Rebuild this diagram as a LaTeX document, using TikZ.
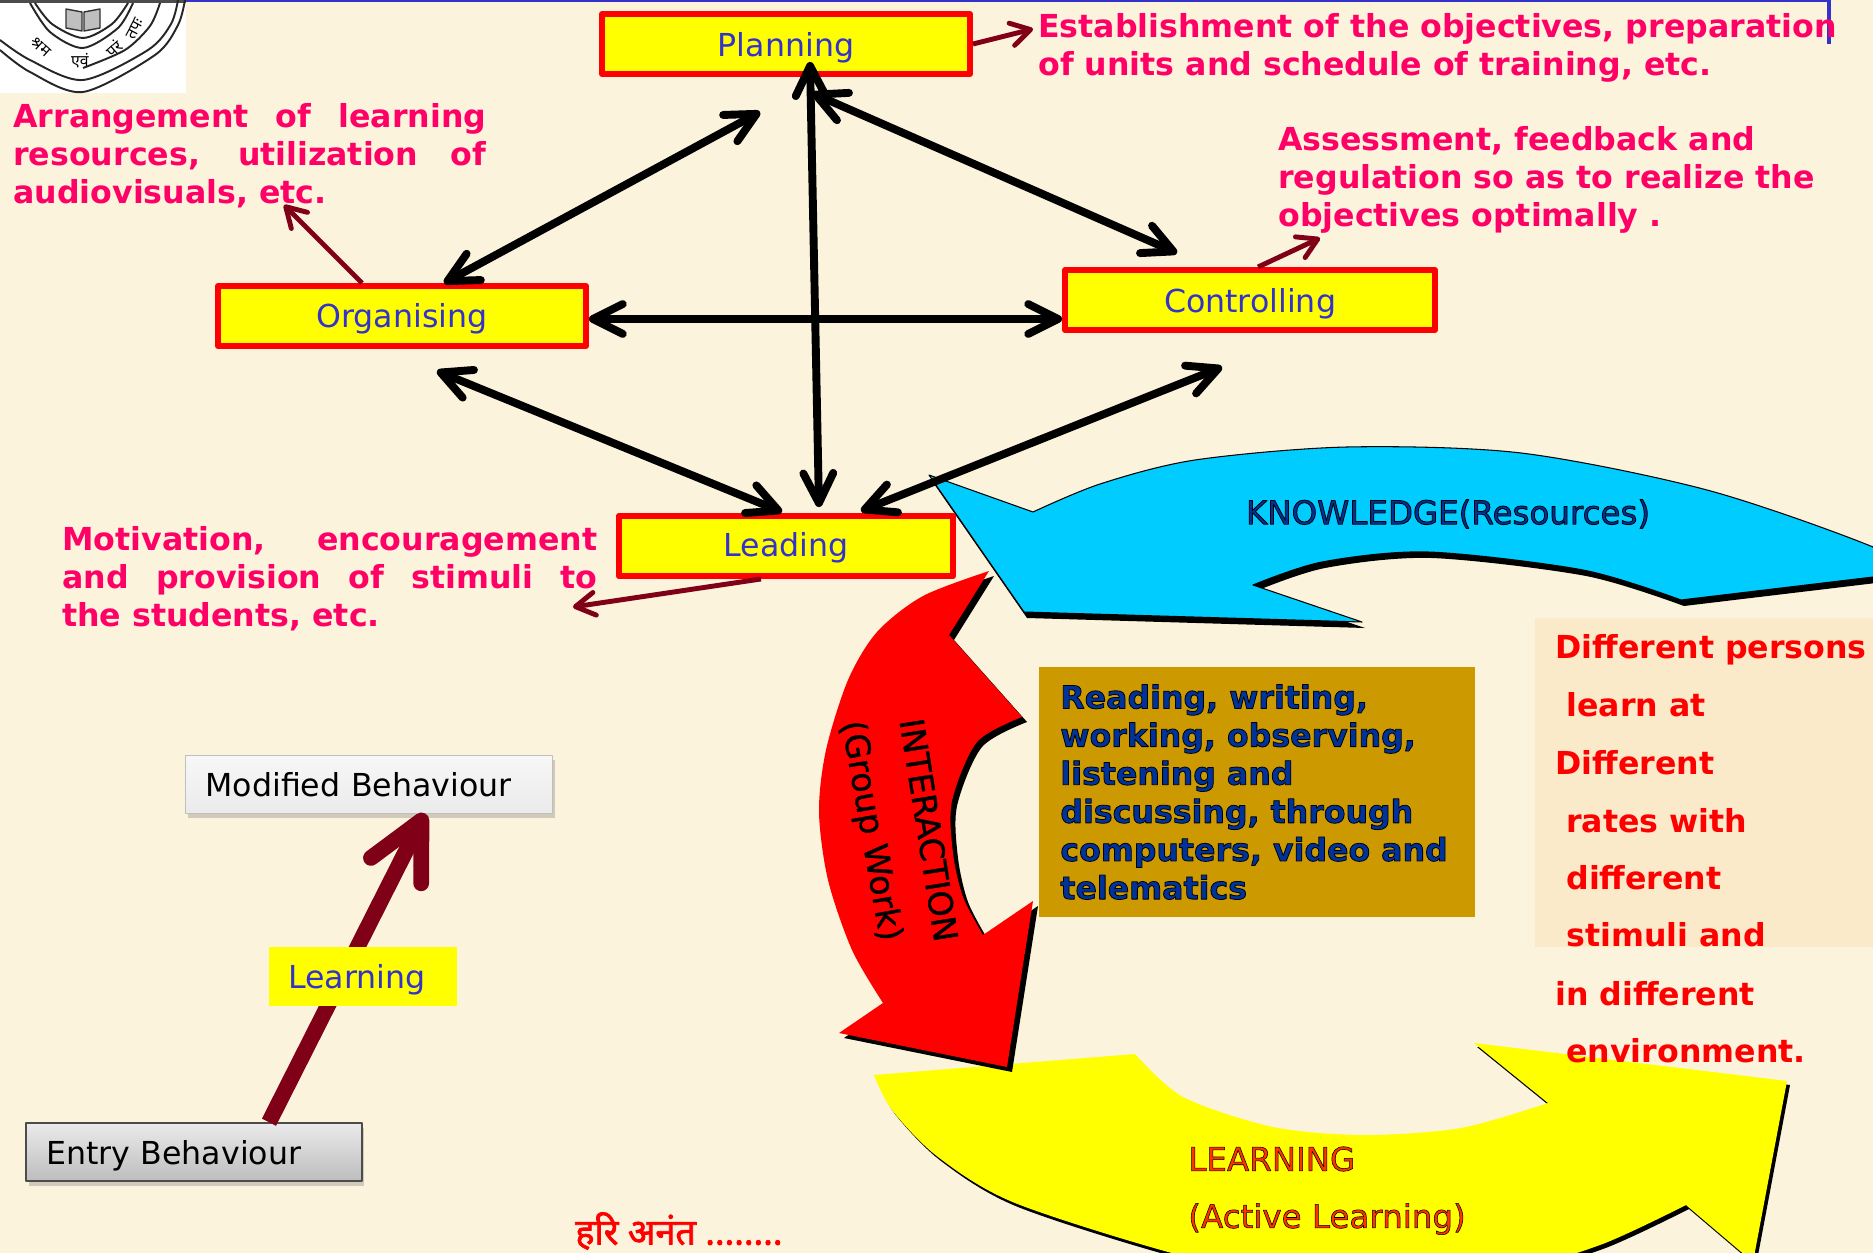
\documentclass[tikz,border=0pt]{standalone}
\usepackage{fontspec}
\usetikzlibrary{arrows.meta,shadows}
\setmainfont{DejaVu Sans}
\newfontfamily\devafont[Script=Devanagari]{Noto Sans}
\newfontfamily\devabold[Script=Devanagari,FakeBold=2]{Noto Sans}
\definecolor{pagebg}{RGB}{252,243,220}
\definecolor{panelbg}{RGB}{251,234,201}
\definecolor{tanbg}{RGB}{204,153,0}
\definecolor{slogan}{RGB}{255,0,102}
\definecolor{boxblue}{RGB}{51,51,204}
\definecolor{navy}{RGB}{0,51,153}
\definecolor{maroon}{RGB}{128,0,24}
\definecolor{skyfill}{RGB}{0,204,255}
\definecolor{orangetxt}{RGB}{255,51,0}
\definecolor{pureyellow}{RGB}{255,255,0}
\definecolor{purered}{RGB}{255,0,0}
\newcommand{\shadowed}[2][.45]{\special{pdf:code q 2 Tr #1 w 0 0 0 RG}#2\special{pdf:code 0 Tr Q}}
\tikzset{
 stagebox/.style={draw=purered,line width=3.4pt,fill=pureyellow,text=boxblue,text height=18pt,text depth=3.2pt,font=\fontsize{18}{22}\selectfont},
 slogantext/.style={anchor=west,align=left,inner sep=0pt,text=slogan,font=\fontsize{18}{21.7}\selectfont\bfseries},
 bothways/.style={<->,line width=4.5pt},
 pointer/.style={-{Straight Barb[round,length=11pt,width=13pt]},line width=2.8pt,draw=maroon},
 behbox/.style={anchor=center,align=left,inner sep=0pt,font=\fontsize{18}{20}\selectfont,minimum height=1.16cm,
  drop shadow={shadow xshift=.05cm,shadow yshift=-.1cm,opacity=.35}},
 righttext/.style={anchor=west,inner sep=0pt,text=purered,text height=14pt,text depth=4pt,font=\fontsize{18}{20}\selectfont\bfseries},
 arrowlabel/.style={inner sep=0pt,font=\fontsize{19}{22}\selectfont},
}
\def\yellowshape{(874,1075) -- (1135,1054) -- plot[smooth] coordinates {(1135,1054)(1183,1097)(1273,1127)(1364,1135)(1461,1128)(1548,1103)}
 -- (1474,1043) -- (1787,1081) -- (1753,1262) -- (1686,1205) -- plot[smooth] coordinates {(1686,1205)(1600,1245)(1506,1270)(1330,1285)(1183,1256)(1015,1203)(938,1157)(892,1110)(874,1075)} -- cycle}
\def\blueshape{(929,475) -- (1033,512) -- plot[smooth] coordinates {(1033,512)(1100,484)(1195,460)(1347,447)(1521,453)(1707,490)(1873,547)(1950,590)}
 -- (1950,562) -- (1873,577) -- (1681,600) -- plot[smooth] coordinates {(1681,600)(1583,570)(1428,552)(1322,562)(1253,585)}
 -- (1362,622) -- (1024,612) -- cycle}
\def\redshape{(989,571) -- (949,635) -- (1022,717) -- plot[smooth] coordinates {(1022,717)(977,742)(952,801)(953,853)(963,897)(983,935)}
 -- (1033,901) -- (1007,1067) -- (839,1033) -- (883,1003) -- plot[smooth] coordinates {(883,1003)(852,950)(828,880)(819,812)(826,750)(848,680)(877,632)(923,596)(989,571)} -- cycle}
\begin{document}
\begin{tikzpicture}[x=.02cm,y=-.02cm,line join=round,>={Straight Barb[round,length=17pt,width=17pt]}]
 \fill[pagebg] (0,0) rectangle (1873,1253);
 \useasboundingbox (0,0) rectangle (1873,1253);
 \clip (0,0) rectangle (1873,1253);
 % frame remains at the top
 \draw[boxblue,line width=1.6pt] (186,1)--(1829,1);
 \draw[boxblue,line width=2.8pt] (1829,0)--(1829,44);
 % crest
 \fill[white] (0,0) rectangle (186,93);
 \draw[black!70,line width=1.2pt] (0,1.5)--(186,1.5);
 \draw[black!85,line width=1.1pt,smooth] plot coordinates {(185,0)(178,25)(155,55)(83,92)(30,72)(0,50)};
 \draw[black!85,line width=1.1pt,smooth] plot coordinates {(178,0)(171,24)(148,50)(83,80)(30,60)(0,40)};
 \draw[black!85,line width=1.1pt,smooth] plot coordinates {(133,3)(118,28)(83,48)(50,32)(30,3)};
 \draw[black!85,line width=1.1pt,smooth] plot coordinates {(128,3)(112,24)(83,38)(52,24)(35,3)};
 \draw[black!85,line width=1.1pt,smooth] plot coordinates {(160,3)(150,26)(125,50)(83,68)};
 \filldraw[fill=black!25,draw=black!80,line width=.8pt] (66,9)--(82,12)--(82,31)--(66,28)--cycle (100,9)--(84,12)--(84,31)--(100,28)--cycle;
 \path[font=\devafont\fontsize{9}{10}\selectfont\bfseries,inner sep=0pt]
 (41,47) node[rotate=-42] (motto1) {श्रम}
 (80,61) node (motto2) {एवं}
 (114,49) node[rotate=42] (motto3) {परं}
 (135,29) node[rotate=62] (motto4) {तपः};
 % block arrows
 \fill[black,shift={(3,4)}] \yellowshape;
 \fill[pureyellow] \yellowshape;
 \fill[black,shift={(3,6)}] \blueshape;
 \filldraw[fill=skyfill,draw=black,line width=.6pt] \blueshape;
 \fill[black,shift={(5,5)}] \redshape;
 \fill[purered] \redshape;
 \node[arrowlabel,text=navy,font=\fontsize{18.5}{22}\selectfont] (knowledge) at (1448,514) {\shadowed{KNOWLEDGE(Resources)}};
 \node[arrowlabel,rotate=-81,text=black] (interaction) at (929,830) {\shadowed[.2]{INTERACTION}};
 \node[arrowlabel,rotate=-80,text=black] (groupwork) at (870,831) {\shadowed[.2]{(Group Work)}};
 \node[arrowlabel,anchor=west,text=orangetxt,font=\fontsize{18.5}{22}\selectfont] (learning) at (1188,1159) {\shadowed[.3]{LEARNING}};
 \node[arrowlabel,anchor=west,text=orangetxt,font=\fontsize{18.5}{22}\selectfont] (active) at (1188,1219) {\shadowed[.3]{(Active Learning)}};
 % text panels
 \fill[panelbg] (1535,618) rectangle (1873,947);
 \node[anchor=north west,fill=tanbg,minimum width=8.72cm,minimum height=5cm,inner sep=0pt] (tanpanel) at (1039,667) {};
 \node[slogantext,text=navy] (reading) at (1060,792) {\shadowed{Reading, writing,}\\\shadowed{working, observing,}\\\shadowed{listening and}\\\shadowed{discussing, through}\\\shadowed{computers, video and}\\\shadowed{telematics}};
 \node[righttext] (diff1) at (1555,650) {Different persons};
 \node[righttext] (diff2) at (1566,708) {learn at};
 \node[righttext] (diff3) at (1555,766) {Different};
 \node[righttext] (diff4) at (1566,824) {rates with};
 \node[righttext] (diff5) at (1566,881) {different};
 \node[righttext] (diff6) at (1566,938) {stimuli and};
 \node[righttext] (diff7) at (1555,997) {in different};
 \node[righttext] (diff8) at (1566,1054) {environment.};
 % stages
 \node[stagebox,minimum width=7.36cm,minimum height=1.2cm] (planning) at (786,44) {Planning};
 \node[stagebox,minimum width=7.36cm,minimum height=1.2cm,text height=16.8pt] (organising) at (402,316) {Organising};
 \node[stagebox,minimum width=7.4cm,minimum height=1.2cm] (controlling) at (1250,300) {Controlling};
 \node[stagebox,minimum width=6.7cm,minimum height=1.2cm,text height=15.2pt] (leading) at (786,546) {Leading};
 \coordinate (nearplanL) at (760,112);
 \coordinate (nearplanR) at (812,93);
 \coordinate (plantip) at (810,62);
 \coordinate (nearctrlT) at (1177,253);
 \coordinate (nearctrlB) at (1222,367);
 \coordinate (nearorgB) at (437,371);
 \coordinate (nearleadR) at (861,511);
 \draw[bothways] ([xshift=.84cm]organising.north)--(nearplanL);
 \draw[bothways] (nearplanR)--(nearctrlT);
 \draw[bothways] (plantip)--([xshift=.66cm,yshift=.12cm]leading.north);
 \draw[bothways] ([yshift=-.06cm]organising.east)--([yshift=-.38cm]controlling.west);
 \draw[bothways] (nearorgB)--([yshift=.02cm,xshift=-.08cm]leading.north);
 \draw[bothways] (nearctrlB)--(nearleadR);
 % pointers to the notes
 \coordinate (notePlan) at (1033,29);
 \coordinate (noteOrg) at (284,205);
 \coordinate (noteCtrl) at (1320,238);
 \coordinate (noteLead) at (573,607);
 \draw[pointer] (planning.east)--(notePlan);
 \draw[pointer] ([xshift=-.8cm]organising.north)--(noteOrg);
 \draw[pointer] ([xshift=.16cm]controlling.north)--(noteCtrl);
 \draw[pointer] ([xshift=-.5cm]leading.south)--(noteLead);
 % notes
 \node[slogantext] (noteplan) at (1038,48) {Establishment of the objectives, preparation\\of units and schedule of training, etc.};
 \node[slogantext] (notearr) at (13,156) {\makebox[9.46cm][s]{Arrangement of learning}\\\makebox[9.46cm][s]{resources, utilization of}\\audiovisuals, etc.};
 \node[slogantext] (noteass) at (1278,180) {Assessment, feedback and\\regulation so as to realize the\\objectives optimally .};
 \node[slogantext] (notemot) at (62,579) {\makebox[10.7cm][s]{Motivation, \ encouragement}\\\makebox[10.7cm][s]{and provision of stimuli to}\\the students, etc.};
 % behaviour
 \node[behbox,draw=black!25,top color=white!97!black,bottom color=black!8,minimum width=7.34cm,text width=6.54cm,text height=17pt,text depth=3.2pt] (modified) at (369,784) {Modified Behaviour};
 \node[behbox,draw=black!70,line width=.9pt,top color=black!8,bottom color=black!26,minimum width=6.72cm,text width=5.92cm,text height=18.4pt,text depth=4pt] (entry) at (194,1152) {Entry Behaviour};
 \draw[maroon,line width=9pt,-{Straight Barb[round,length=32pt,width=32pt]}] ([xshift=1.5cm]entry.north)--([xshift=1.12cm]modified.south);
 \node[fill=pureyellow,text=boxblue,anchor=west,minimum width=3.76cm,minimum height=1.18cm,text width=3cm,inner xsep=.38cm,inner ysep=0pt,text height=17.4pt,text depth=3pt,font=\fontsize{18}{20}\selectfont] (learnlbl) at (269,976) {Learning};
 \node[anchor=west,inner sep=0pt,text=purered,font=\devabold\fontsize{20.5}{22}\selectfont] (hari) at (575,1231) {हरि अनंत ........};
\end{tikzpicture}
\end{document}
